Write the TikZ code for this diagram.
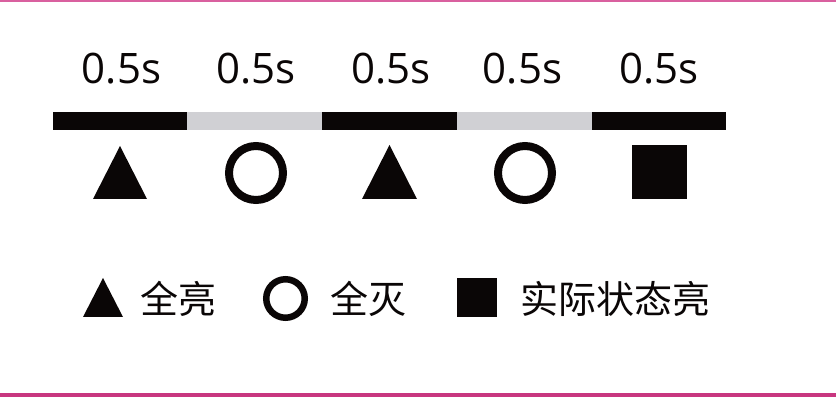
\documentclass[tikz,border=0pt]{standalone}
\usepackage{fontspec}
\setmainfont{Open Sans}
\newfontfamily\cjk{Noto Sans CJK SC}
\definecolor{ink}{HTML}{0A0606}
\definecolor{barg}{HTML}{D0D0D4}
\definecolor{pinktop}{HTML}{D9609F}
\definecolor{pinkbot}{HTML}{C8367F}
\tikzset{
  seglab/.style={anchor=base, inner sep=0pt, font=\fontsize{42}{42}\selectfont, text=ink},
  legtxt/.style={anchor=west, inner sep=0pt, font=\cjk\fontsize{38}{38}\selectfont, text=ink},
  blackseg/.style={fill=ink, draw=none},
  grayseg/.style={fill=barg, draw=none},
  ring/.style={draw=ink, fill=none},
  solid/.style={fill=ink, draw=none}
}
\begin{document}
\begin{tikzpicture}[x=1pt,y=-1pt]
\useasboundingbox (0,0) rectangle (836,398);
\fill[white] (0,0) rectangle (836,398);
% pink rules
\fill[pinktop] (0,0) rectangle (836,1.8);
\fill[pinkbot] (0,393) rectangle (836,396.5);
% bar segments
\fill[blackseg] (53,112) rectangle (187,130);
\fill[grayseg] (187,112) rectangle (322,130);
\fill[blackseg] (322,112) rectangle (457,130);
\fill[grayseg] (457,112) rectangle (592,130);
\fill[blackseg] (592,112) rectangle (726,130);
% labels
\node[seglab] (l1) at (121.5,83.5) {0.5s};
\node[seglab] (l2) at (256,83.5) {0.5s};
\node[seglab] (l3) at (391,83.5) {0.5s};
\node[seglab] (l4) at (522.5,83.5) {0.5s};
\node[seglab] (l5) at (659,83.5) {0.5s};
% state symbols
\fill[solid] (93,199) -- (120,146) -- (147,199) -- cycle;
\draw[ring, line width=8] (256,173) circle (27);
\fill[solid] (362,199) -- (389.5,145) -- (417,199) -- cycle;
\draw[ring, line width=8] (525,173) circle (27);
\fill[solid] (632,145) rectangle (687,199);
% legend
\fill[solid] (83,317) -- (103,278) -- (123,317) -- cycle;
\node[legtxt] (t1) at (140,298.5) {全亮};
\draw[ring, line width=6.5] (285.5,298.5) circle (19.25);
\node[legtxt] (t2) at (330,298.5) {全灭};
\fill[solid] (457,278) rectangle (497,317);
\node[legtxt] (t3) at (520,298.5) {实际状态亮};
\end{tikzpicture}
\end{document}
